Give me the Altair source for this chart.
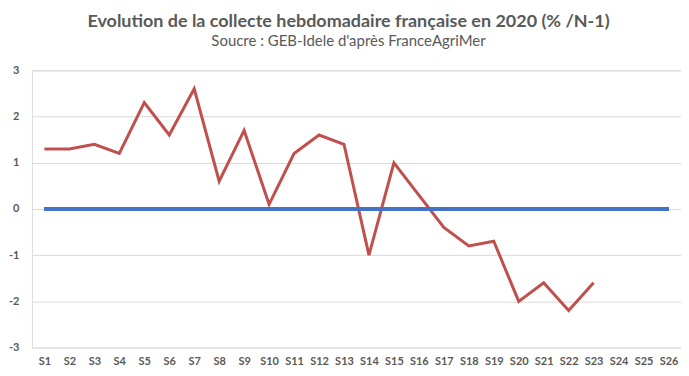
import altair as alt
import pandas as pd

weeks = [f"S{i}" for i in range(1, 27)]
values = [1.3, 1.3, 1.4, 1.2, 2.3, 1.6, 2.6, 0.6, 1.7, 0.1, 1.2, 1.6, 1.4,
          -1.0, 1.0, 0.3, -0.4, -0.8, -0.7, -2.0, -1.6, -2.2, -1.6]
y_ticks = [-3, -2, -1, 0, 1, 2, 3]

title_text = "Evolution de la collecte hebdomadaire française en 2020 (% /N-1)"
subtitle_text = "Soucre : GEB-Idele d'après FranceAgriMer"

df = pd.DataFrame({"week": weeks[:len(values)], "value": values})

FONT = "Lato"
GREY = "#595959"

x_enc = alt.X("week:O", sort=weeks,
              scale=alt.Scale(domain=weeks, type="point", padding=0.5),
              axis=alt.Axis(title=None, labelAngle=0, labelFont=FONT, labelFontSize=11,
                            labelFontWeight="bold", labelColor=GREY, ticks=False,
                            domain=False, grid=False, labelPadding=8))
y_enc = alt.Y("value:Q", scale=alt.Scale(domain=[-3, 3], nice=False),
              axis=alt.Axis(title=None, values=y_ticks, labelFont=FONT, labelFontSize=11,
                            labelFontWeight="bold", labelColor=GREY, ticks=False,
                            domain=False, grid=True, gridColor="#D9D9D9", gridWidth=1,
                            labelPadding=13, labelExpr="'' + datum.value"))

line = alt.Chart(df).mark_line(color="#C0504D", strokeWidth=3).encode(x=x_enc, y=y_enc)

zero = alt.Chart(df).mark_rule(color="#4472C4", strokeWidth=3).encode(
    x=alt.datum(weeks[0]), x2=alt.datum(weeks[-1]), y=alt.datum(0))

chart = alt.layer(line, zero).properties(
    width=651, height=278,
    autosize=alt.AutoSizeParams(type="none"),
    padding={"left": 24, "top": 62, "right": 0, "bottom": 20},
    title=alt.TitleParams(text=title_text, subtitle=subtitle_text, font=FONT,
                          fontSize=18, fontWeight="bold", color=GREY,
                          subtitleFont=FONT, subtitleFontSize=15, subtitleColor=GREY,
                          anchor="middle", offset=15, subtitlePadding=3, dx=-8),
).configure_view(stroke=None).configure(background="white")

chart.save("out.html", embed_options={"renderer": "svg", "actions": False})
